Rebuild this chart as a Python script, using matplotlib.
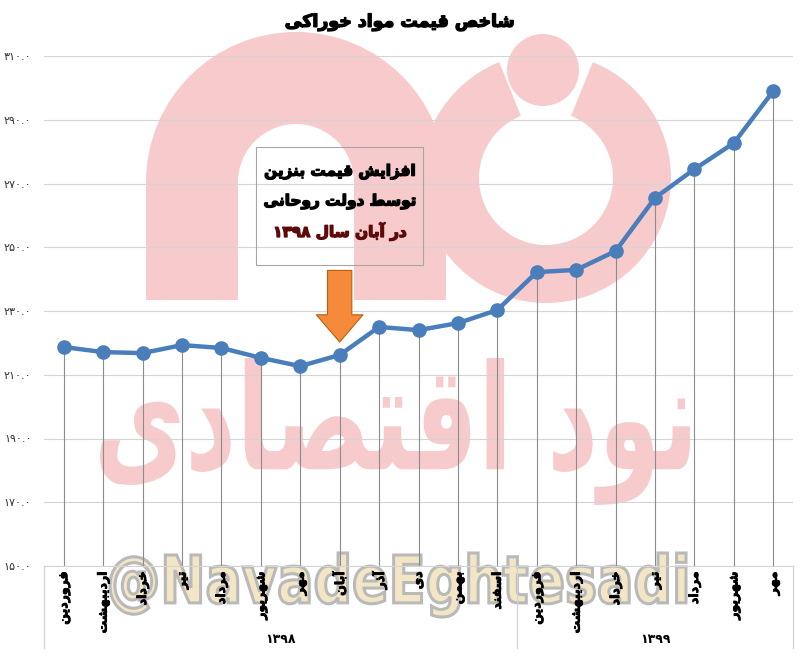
import re
import matplotlib
matplotlib.use("Agg")
import matplotlib.pyplot as plt
import matplotlib.transforms as mtransforms
import matplotlib.patheffects as pe
from matplotlib.patches import Rectangle, FancyArrowPatch, Wedge, Circle, PathPatch
from matplotlib.textpath import TextPath
from matplotlib.font_manager import FontProperties
from matplotlib.path import Path

plt.rcParams['font.family'] = ['DejaVu Sans']

# داده ها
title = "شاخص قیمت مواد خوراکی"
months = ["فروردین", "اردیبهشت", "خرداد", "تیر", "مرداد", "شهریور", "مهر", "آبان",
          "آذر", "دی", "بهمن", "اسفند",
          "فروردین", "اردیبهشت", "خرداد", "تیر", "مرداد", "شهریور", "مهر"]
years = ["۱۳۹۸", "۱۳۹۹"]
year_counts = [12, 7]
values = [218.7, 217.1, 216.8, 219.3, 218.4, 215.3, 212.7, 216.2, 225.0, 224.0,
          226.2, 230.3, 242.2, 242.9, 248.8, 265.5, 274.5, 282.7, 299.0]
y_ticks = [150, 170, 190, 210, 230, 250, 270, 290, 310]
note_lines = ["افزایش قیمت بنزین", "توسط دولت روحانی", "در آبان سال ۱۳۹۸"]
note_colors = ["black", "black", "#5c0a0a"]
note_month = 7

# شکل دادن حروف فارسی (matplotlib خودش این کار را نمی کند)
FORMS = {
    'ا': ('\uFE8D', '\uFE8E', None, None), 'آ': ('\uFE81', '\uFE82', None, None),
    'ب': ('\uFE8F', '\uFE90', '\uFE91', '\uFE92'), 'ت': ('\uFE95', '\uFE96', '\uFE97', '\uFE98'),
    'ح': ('\uFEA1', '\uFEA2', '\uFEA3', '\uFEA4'), 'خ': ('\uFEA5', '\uFEA6', '\uFEA7', '\uFEA8'),
    'د': ('\uFEA9', '\uFEAA', None, None), 'ذ': ('\uFEAB', '\uFEAC', None, None),
    'ر': ('\uFEAD', '\uFEAE', None, None), 'ز': ('\uFEAF', '\uFEB0', None, None),
    'س': ('\uFEB1', '\uFEB2', '\uFEB3', '\uFEB4'), 'ش': ('\uFEB5', '\uFEB6', '\uFEB7', '\uFEB8'),
    'ص': ('\uFEB9', '\uFEBA', '\uFEBB', '\uFEBC'), 'ط': ('\uFEC1', '\uFEC2', '\uFEC3', '\uFEC4'),
    'ف': ('\uFED1', '\uFED2', '\uFED3', '\uFED4'), 'ق': ('\uFED5', '\uFED6', '\uFED7', '\uFED8'),
    'ل': ('\uFEDD', '\uFEDE', '\uFEDF', '\uFEE0'), 'م': ('\uFEE1', '\uFEE2', '\uFEE3', '\uFEE4'),
    'ن': ('\uFEE5', '\uFEE6', '\uFEE7', '\uFEE8'), 'ه': ('\uFEE9', '\uFEEA', '\uFEEB', '\uFEEC'),
    'و': ('\uFEED', '\uFEEE', None, None), 'ی': ('\uFBFC', '\uFBFD', '\uFBFE', '\uFBFF'),
    'ک': ('\uFB8E', '\uFB8F', '\uFB90', '\uFB91'),
}


def fa(text):
    out = []
    for i, c in enumerate(text):
        if c not in FORMS:
            out.append(c)
            continue
        f = FORMS[c]
        prev = text[i - 1] if i > 0 else ''
        nxt = text[i + 1] if i < len(text) - 1 else ''
        jp = prev in FORMS and FORMS[prev][2] is not None
        jn = f[2] is not None and nxt in FORMS
        if jp and jn:
            out.append(f[3])
        elif jp:
            out.append(f[1])
        elif jn:
            out.append(f[2])
        else:
            out.append(f[0])
    tokens = re.findall(r'[0-9\u06F0-\u06F9.]+|.', ''.join(out))
    return ''.join(reversed(tokens))


def bold(color, w=0.9):
    return [pe.withStroke(linewidth=w, foreground=color)]


fa_digits = str.maketrans("0123456789", "۰۱۲۳۴۵۶۷۸۹")

W, H = 800, 656
fig = plt.figure(figsize=(W / 100, H / 100), dpi=100)


def px(x, y):
    return x / W, 1 - y / H


# واترمارک (پشت نمودار)
pink = '#F7CACC'
wm = []
wm.append(Wedge(px(296, 182), 150 / W, 0, 180, width=92 / W))
wm.append(Rectangle(px(146, 300), 92 / W, 118 / H))
wm.append(Rectangle(px(354, 300), 92 / W, 118 / H))
wm.append(Wedge(px(546, 178), 125 / W, 112, 428, width=58 / W))
wm.append(Circle(px(543, 70), 36 / W))
for p in wm:
    p.set_facecolor(pink)
    p.set_edgecolor('none')
    p.set_zorder(-5)
    if isinstance(p, (Wedge, Circle)):
        c = p.center
        sx = mtransforms.Affine2D().translate(-c[0], -c[1]).scale(1, W / H).translate(c[0], c[1])
        p.set_transform(sx + fig.transFigure)
    else:
        p.set_transform(fig.transFigure)
    fig.patches.append(p)


def text_patch(s, box, weight, face, edge=None, lw=0, z=-4):
    tp = TextPath((0, 0), s, size=100, prop=FontProperties(family='DejaVu Sans', weight=weight))
    ext = tp.get_extents()
    x0, y0, x1, y1 = box
    verts = tp.vertices.copy()
    verts[:, 0] = x0 + (verts[:, 0] - ext.x0) / ext.width * (x1 - x0)
    verts[:, 1] = y1 - (verts[:, 1] - ext.y0) / ext.height * (y1 - y0)
    verts[:, 0] /= W
    verts[:, 1] = 1 - verts[:, 1] / H
    patch = PathPatch(Path(verts, tp.codes), facecolor=face, edgecolor=edge or 'none',
                      lw=lw, transform=fig.transFigure, zorder=z)
    fig.patches.append(patch)


text_patch(fa("نود اقتصادی"), (100, 358, 690, 505), 'bold', pink)
text_patch("@NavadeEghtesadi", (110, 553, 686, 617), 'bold', '#F2E6C4', '#B9B9B9', 2.2)

ax = fig.add_axes([44 / W, 1 - 566 / H, (793 - 44) / W, (566 - 56) / H])
ax.set_facecolor('none')

x = list(range(len(values)))
ax.vlines(x, y_ticks[0], values, color='#8c8c8c', lw=0.8, zorder=2)
ax.plot(x, values, color='#4A7EBB', lw=3.2, marker='o', ms=9.5, zorder=4)

ax.set_xlim(-0.5, len(values) - 0.5)
ax.set_ylim(y_ticks[0], y_ticks[-1])
ax.set_yticks(y_ticks)
ax.set_yticklabels([f"{v:.1f}".translate(fa_digits) for v in y_ticks], fontsize=8, color='#333333')
ax.yaxis.grid(True, color='#d4d4d4', lw=0.8)
ax.set_axisbelow(True)
ax.tick_params(axis='y', length=0, pad=9)
ax.tick_params(axis='x', length=0, pad=4)
ax.set_xticks(x)
ax.set_xticklabels([fa(m) for m in months], rotation=90, fontsize=9, fontweight='bold')
for lbl in ax.get_xticklabels():
    lbl.set_path_effects(bold('black', 0.6))
for s in ['left', 'right', 'top']:
    ax.spines[s].set_visible(False)
ax.spines['bottom'].set_color('#d4d4d4')

# سال ها زیر محور
trans = mtransforms.blended_transform_factory(ax.transData, ax.transAxes)
start = -0.5
for yr, n in zip(years, year_counts):
    ax.text(start + n / 2, -0.145, yr, transform=trans, ha='center', va='center',
            fontsize=9, fontweight='bold', clip_on=False)
    start += n
edges = [-0.5]
for n in year_counts:
    edges.append(edges[-1] + n)
for e in edges:
    ax.plot([e, e], [0, -0.16], transform=trans, color='#d4d4d4', lw=0.9, clip_on=False)

# توضیح و فلش
ax.add_patch(Rectangle((note_month - 2.12, 244.4), 4.24, 37, facecolor='none',
                       edgecolor='#a6a6a6', lw=0.8, zorder=3))
for i, (line, col) in enumerate(zip(note_lines, note_colors)):
    ax.text(note_month, 273.6 - i * 9.4, fa(line), ha='center', va='center',
            fontsize=11, fontweight='bold', color=col, zorder=5,
            path_effects=bold(col, 1.0))
ax.add_patch(FancyArrowPatch((note_month, 243.6), (note_month, values[note_month] + 3.2),
                             arrowstyle='simple,head_length=1.4,head_width=2.4,tail_width=1.25',
                             mutation_scale=14, facecolor='#F58A3A', edgecolor='#B8600F',
                             lw=0.8, zorder=5))

fig.text(0.5, 1 - 22 / H, fa(title), ha='center', va='center', fontsize=12.5,
         fontweight='bold', path_effects=bold('black', 1.0))

fig.savefig("out.png", dpi=100)
